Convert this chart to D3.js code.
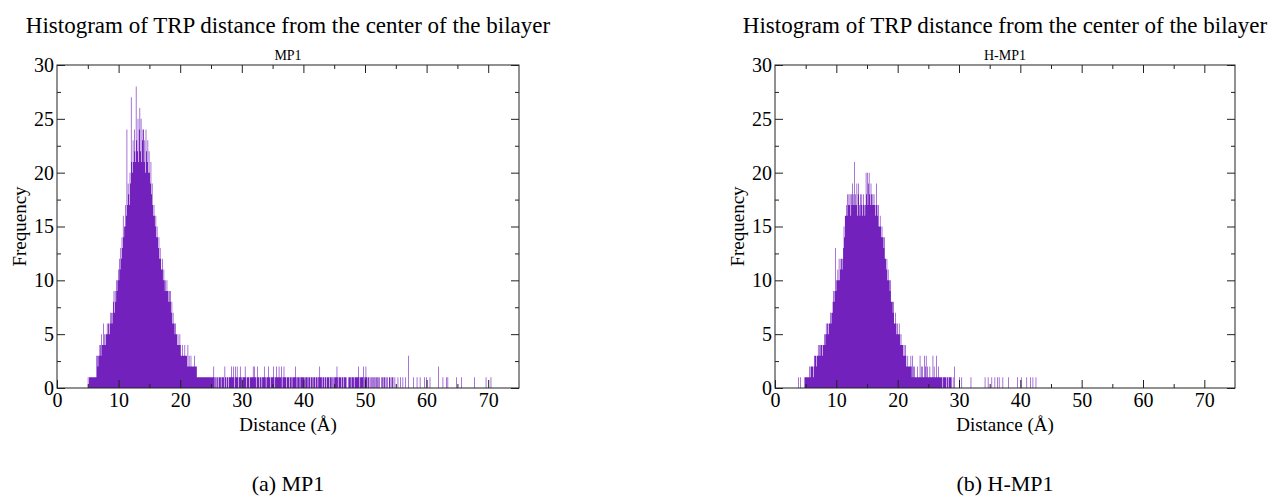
<!DOCTYPE html>
<html>
<head>
<meta charset="utf-8">
<script src="https://cdn.jsdelivr.net/npm/d3@7"></script>
<style>
  body { margin: 0; background: #fff; }
  svg text { fill: #000; font-family: "Liberation Serif", "Times New Roman", serif; }
</style>
</head>
<body>
<div id="chart"></div>
<script>
// TRP distance histograms (xmgrace style), two panels side by side.

const SERIF = '"Liberation Serif", "Times New Roman", serif';
const BAR_COLOUR = '#7221bc';
const BIN = 0.1;          // bin width in Å
const X_MAX = 75;
const Y_MAX = 30;

const X_MAJOR = [0, 10, 20, 30, 40, 50, 60, 70];
const X_MINOR = [5, 15, 25, 35, 45, 55, 65];
const Y_MAJOR = [0, 5, 10, 15, 20, 25, 30];
const Y_MINOR = [2.5, 7.5, 12.5, 17.5, 22.5, 27.5];

const TITLE = 'Histogram of TRP distance from the center of the bilayer';
const X_LABEL = 'Distance (Å)';
const Y_LABEL = 'Frequency';

// MP1: counts per 0.1 Å bin, first bin at 5.0 Å (one row per Å)
const mp1Start = 5.0;
const mp1Counts = [
  1,0,1,1,1,1,1,1,1,1,   // 5
  1,1,1,1,3,3,2,3,3,4,   // 6
  4,3,5,4,4,6,4,5,4,5,   // 7
  5,6,5,6,6,5,7,6,7,6,   // 8
  7,8,9,7,9,8,10,9,10,11, // 9
  10,12,11,13,12,14,13,16,14,15, // 10
  15,17,16,24,17,19,18,17,20,19, // 11
  27,21,20,23,21,24,22,21,28,23, // 12
  22,25,21,24,26,22,25,21,23,24, // 13
  24,21,23,20,24,22,21,23,20,22, // 14
  20,19,21,18,19,17,16,17,16,15, // 15
  16,14,15,14,13,14,12,13,12,11, // 16
  11,12,10,11,10,9,10,9,10,9,    // 17
  9,8,9,8,9,7,8,6,7,6,   // 18
  6,5,6,5,5,4,5,4,4,5,   // 19
  4,3,3,4,3,3,3,4,3,3,   // 20
  3,2,4,2,3,2,2,3,2,2,   // 21
  2,2,2,3,2,2,2,1,1,1,   // 22
  1,1,1,1,1,1,1,1,1,1,   // 23
  1,1,1,1,1,1,1,1,1,1,   // 24
  1,1,1,1,2,1,0,1,1,0,   // 25
  1,1,0,1,1,1,0,1,1,1,   // 26
  1,0,2,1,1,0,1,1,0,1,   // 27
  1,1,1,2,1,1,2,1,0,2,   // 28
  1,1,2,1,0,1,1,2,1,1,   // 29
  0,1,1,1,1,2,1,0,1,1,   // 30
  1,1,0,1,1,1,1,1,2,1,   // 31
  2,1,1,0,1,2,1,1,0,1,   // 32
  1,1,0,1,1,1,2,1,1,0,   // 33
  1,1,1,2,1,1,0,1,1,1,   // 34
  1,2,1,0,1,1,2,1,1,1,   // 35
  2,1,1,1,2,0,1,1,2,1,   // 36
  1,1,0,1,1,1,1,0,1,1,   // 37
  1,0,1,1,1,1,1,2,1,0,   // 38
  1,1,1,1,0,1,1,1,1,1,   // 39
  1,1,0,1,1,1,1,0,1,1,   // 40
  1,0,1,1,1,0,1,1,1,0,   // 41
  1,1,1,0,1,1,2,1,1,1,   // 42
  0,1,1,1,0,1,1,0,1,1,   // 43
  1,1,0,1,1,1,0,1,1,0,   // 44
  1,1,1,1,2,1,0,1,1,1,   // 45
  1,0,1,1,1,0,1,1,1,1,   // 46
  0,0,0,1,1,1,1,0,1,1,   // 47
  1,1,0,1,1,1,1,1,1,2,   // 48
  1,0,1,1,1,1,1,2,0,1,   // 49
  1,2,1,1,0,1,1,0,1,0,   // 50
  1,0,1,1,0,1,0,1,1,0,   // 51
  1,1,0,1,0,0,1,0,1,1,   // 52
  0,1,1,0,1,0,1,0,0,1,   // 53
  1,0,1,0,1,1,0,0,1,0,   // 54
  0,0,0,1,0,0,0,1,0,0,   // 55
  0,1,0,0,0,1,0,0,0,0,   // 56
  3,0,0,0,0,0,0,0,1,0,   // 57
  0,0,0,0,1,0,0,0,0,1,   // 58
  0,0,0,0,0,0,1,0,0,1,   // 59
  0,0,0,0,0,1,0,0,0,0,   // 60
  0,0,0,0,0,0,0,0,0,2,   // 61
  0,0,0,0,0,0,1,0,0,0,   // 62
  0,0,1,0,1,0,0,0,0,0,   // 63
  0,0,0,0,0,0,0,0,1,0,   // 64
  0,0,0,0,0,0,1,0,0,0,   // 65
  0,0,0,0,0,0,0,0,0,0,   // 66
  0,0,0,0,0,0,0,1,0,0,   // 67
  0,0,0,0,0,0,0,0,0,0,   // 68
  0,0,0,0,0,0,1,0,0,0,   // 69
  0,0,0,0,1,0,0,0,0,0    // 70
];

// H-MP1: counts per 0.1 Å bin, first bin at 3.0 Å
const hmp1Start = 3.0;
const hmp1Counts = [
  0,0,0,0,0,0,0,0,1,0,   // 3
  0,1,0,0,0,0,0,0,1,1,   // 4
  1,1,1,1,1,1,2,1,2,2,   // 5
  2,2,1,2,3,3,3,2,3,3,   // 6
  4,3,4,3,4,4,4,3,4,4,   // 7
  5,4,5,6,5,6,6,5,6,6,   // 8
  7,6,7,7,8,9,8,9,13,9,  // 9
  10,10,11,10,12,10,11,12,12,11, // 10
  12,13,15,14,16,16,17,16,18,17, // 11
  18,17,18,16,18,17,19,18,17,21, // 12
  17,18,17,19,16,18,19,17,16,18, // 13
  17,18,16,17,18,17,16,17,20,18, // 14
  20,17,19,20,18,17,19,18,17,18, // 15
  17,18,17,16,17,19,17,16,17,15, // 16
  15,16,15,14,15,14,14,13,14,12, // 17
  12,11,12,10,11,10,10,9,10,8,   // 18
  8,8,7,8,6,6,7,6,5,6,   // 19
  5,5,6,5,4,5,4,4,4,3,   // 20
  4,3,4,3,2,2,3,2,2,2,   // 21
  2,3,2,1,3,2,1,2,1,1,   // 22
  1,1,2,1,1,1,3,1,2,1,   // 23
  2,1,1,3,1,2,3,1,2,1,   // 24
  1,1,2,1,1,1,1,3,1,2,   // 25
  1,1,1,3,1,1,2,1,1,1,   // 26
  1,1,1,0,1,1,1,1,1,0,   // 27
  1,1,0,1,1,1,1,1,0,0,   // 28
  1,0,2,0,0,0,0,0,0,0,   // 29
  1,0,0,0,1,0,0,0,0,0,   // 30
  0,0,0,0,0,0,0,0,0,1,   // 31
  0,0,0,0,0,0,0,0,0,0,   // 32
  0,0,0,0,0,0,0,0,0,0,   // 33
  0,0,1,0,0,0,0,1,0,0,   // 34
  0,0,0,1,0,0,0,0,1,0,   // 35
  0,0,1,0,0,1,0,0,0,0,   // 36
  0,1,0,0,0,0,0,0,0,0,   // 37
  1,0,0,0,0,0,0,0,0,0,   // 38
  0,0,0,0,0,1,0,0,0,0,   // 39
  0,1,0,0,0,0,0,0,0,0,   // 40
  1,0,0,0,0,0,1,0,0,0,   // 41
  1,0,0,0,0,1,0,0,0,0    // 42
];

const panels = [
  { left: 57,  right: 519,  top: 65, bottom: 388, sub: 'MP1',   caption: '(a) MP1',   start: mp1Start,  counts: mp1Counts },
  { left: 775, right: 1235, top: 65, bottom: 388, sub: 'H-MP1', caption: '(b) H-MP1', start: hmp1Start, counts: hmp1Counts }
];

const svg = d3.select('#chart')
  .append('svg')
  .attr('width', 1272)
  .attr('height', 502)
  .style('font-family', SERIF);

function axis(gen, values, size, labels, pad) {
  return g => {
    g.call(gen.tickValues(values).tickSize(size).tickPadding(pad)
      .tickFormat(labels ? d3.format('d') : ''));
    g.select('.domain').remove();
    g.attr('font-family', SERIF).attr('font-size', 20).attr('color', '#222');
    g.selectAll('text').attr('fill', '#000').style('font-family', SERIF);
  };
}

function label(x, y, size, str) {
  return svg.append('text')
    .attr('x', x).attr('y', y)
    .attr('text-anchor', 'middle')
    .style('font-family', SERIF)
    .style('font-size', size + 'px')
    .text(str);
}

function drawPanel(p) {
  const x = d3.scaleLinear().domain([0, X_MAX]).range([p.left, p.right]);
  const y = d3.scaleLinear().domain([0, Y_MAX]).range([p.bottom, p.top]);
  const cx = (p.left + p.right) / 2;

  // histogram as one stepped area
  const pts = p.counts.map((c, i) => ({ x: p.start + i * BIN, c }));
  pts.push({ x: p.start + p.counts.length * BIN, c: 0 });
  const area = d3.area()
    .x(d => x(d.x))
    .y0(y(0))
    .y1(d => y(d.c))
    .curve(d3.curveStepAfter);
  svg.append('path').datum(pts).attr('d', area).attr('fill', BAR_COLOUR);

  // inward ticks on all four sides
  svg.append('g').attr('transform', `translate(0,${p.bottom})`).call(axis(d3.axisBottom(x), X_MINOR, -4, false, 5));
  svg.append('g').attr('transform', `translate(0,${p.bottom})`).call(axis(d3.axisBottom(x), X_MAJOR, -8, true, 5));
  svg.append('g').attr('transform', `translate(0,${p.top})`).call(axis(d3.axisTop(x), X_MINOR, -4, false, 0));
  svg.append('g').attr('transform', `translate(0,${p.top})`).call(axis(d3.axisTop(x), X_MAJOR.slice(1), -8, false, 0));
  svg.append('g').attr('transform', `translate(${p.left},0)`).call(axis(d3.axisLeft(y), Y_MINOR, -4, false, 3));
  svg.append('g').attr('transform', `translate(${p.left},0)`).call(axis(d3.axisLeft(y), Y_MAJOR, -8, true, 3));
  svg.append('g').attr('transform', `translate(${p.right},0)`).call(axis(d3.axisRight(y), Y_MINOR, -4, false, 0));
  svg.append('g').attr('transform', `translate(${p.right},0)`).call(axis(d3.axisRight(y), Y_MAJOR, -8, false, 0));

  svg.append('rect')
    .attr('x', p.left).attr('y', p.top)
    .attr('width', p.right - p.left).attr('height', p.bottom - p.top)
    .attr('fill', 'none').attr('stroke', '#222').attr('stroke-width', 1);

  label(cx, 33, 23, TITLE);
  label(cx, 60, 14, p.sub);
  label(cx, 431, 19, X_LABEL);
  label(0, 0, 19, Y_LABEL)
    .attr('transform', `translate(${p.left - 31},${(p.top + p.bottom) / 2}) rotate(-90)`);
  label(cx, 491, 22, p.caption);
}

panels.forEach(drawPanel);
</script>
</body>
</html>
